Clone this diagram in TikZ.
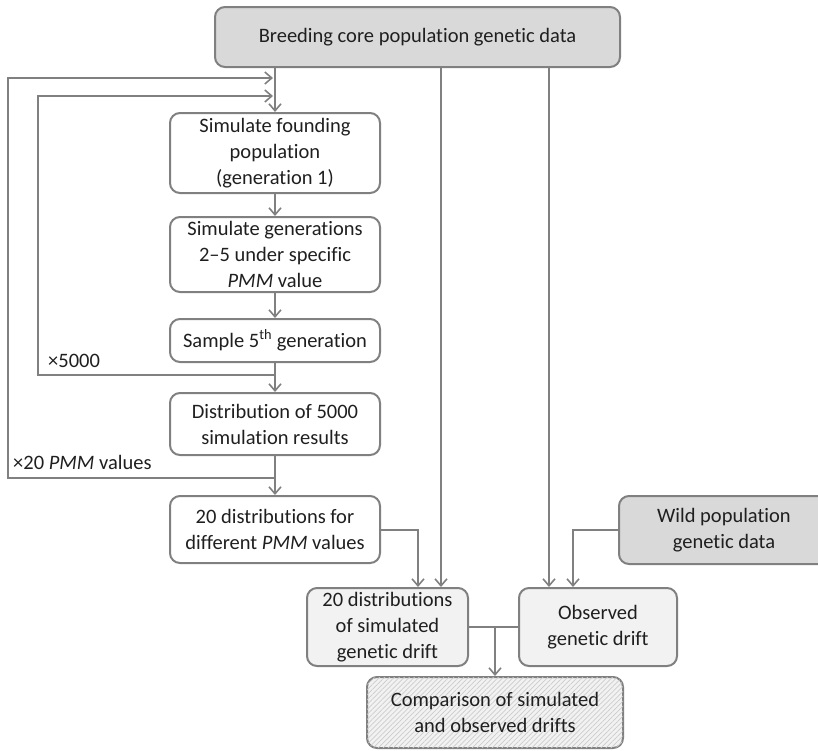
\documentclass[tikz,border=0pt]{standalone}
\usepackage{fontspec}
\setmainfont{Carlito}[Ligatures={NoCommon}]
\usetikzlibrary{arrows.meta,patterns.meta}
\definecolor{linegray}{RGB}{128,128,128}
\definecolor{boxgray}{RGB}{217,217,217}
\definecolor{lightbox}{RGB}{242,242,242}
\tikzset{
  box/.style={draw=linegray, line width=2pt, rounded corners=10pt, align=center,
    inner sep=0pt, font=\fontsize{20.5}{26}\selectfont, text=black!88},
  graybox/.style={box, fill=boxgray},
  dotbox/.style={box, fill=lightbox},
  hatchbox/.style={box, fill=lightbox, postaction={pattern={Lines[angle=45,distance=3.5pt,line width=0.7pt]}, pattern color=black!20}},
  conn/.style={draw=linegray, line width=2pt},
  arr/.style={conn, -{Straight Barb[length=7pt,width=12pt,line width=1.6pt]}},
  lbl/.style={font=\fontsize{20.5}{26}\selectfont, text=black!88, inner sep=0pt, anchor=west}
}
\begin{document}
\begin{tikzpicture}[x=1pt,y=-1pt]
\useasboundingbox (0,0) rectangle (818,750);
\clip (0,0) rectangle (818,750);
% nodes
\node[graybox, minimum width=405pt, minimum height=60pt] (top) at (417.5,37) {Breeding core population genetic data};
\node[box, minimum width=210pt, minimum height=80pt] (b1) at (275,153) {Simulate founding\\population\\(generation 1)};
\node[box, minimum width=210pt, minimum height=75pt] (b2) at (275,254.5) {Simulate generations\\2–5 under specific\\\textit{PMM} value};
\node[box, minimum width=210pt, minimum height=43pt] (b3) at (275,340.5) {Sample 5\textsuperscript{th} generation};
\node[box, minimum width=210pt, minimum height=62pt] (b4) at (275,424) {Distribution of 5000\\simulation results};
\node[box, minimum width=210pt, minimum height=67pt] (b5) at (275,529.5) {20 distributions for\\different \textit{PMM} values};
\node[dotbox, minimum width=161pt, minimum height=78pt] (b6) at (387.5,627) {20 distributions\\of simulated\\genetic drift};
\node[dotbox, minimum width=158pt, minimum height=78pt] (b7) at (598,627) {Observed\\genetic drift};
\node[hatchbox, minimum width=256pt, minimum height=71pt] (b8) at (495,712.5) {Comparison of simulated\\and observed drifts};
\node[graybox, minimum width=210pt, minimum height=68pt] (wild) at (724,530) {Wild population\\genetic data};
% labels
\node[lbl] (l1) at (48,361) {×5000};
\node[lbl] (l2) at (13,462) {×20 \textit{PMM} values};
% coordinates
\coordinate (X1) at (441,0);
\coordinate (X2) at (549,0);
\coordinate (X3) at (418,0);
\coordinate (X4) at (573,0);
\coordinate (J1) at (275,375);
\coordinate (J2) at (275,478);
\coordinate (T1) at (273,96);
\coordinate (T2) at (273,78);
\coordinate (JB) at (495,627);
% main column
\draw[arr] (b1.north |- top.south) -- (b1.north);
\draw[arr] (b1) -- (b2);
\draw[arr] (b2) -- (b3);
\draw[arr] (b3) -- (b4);
\draw[arr] (b4) -- (b5);
% loops
\draw[arr] (J1) -- (38,375) |- (T1);
\draw[arr] (J2) -- (8,478) |- (T2);
% long lines from top
\draw[arr] (X1 |- top.south) -- (X1 |- b6.north);
\draw[arr] (X2 |- top.south) -- (X2 |- b7.north);
% side inputs
\draw[arr] (b5.east) -| (X3 |- b6.north);
\draw[arr] (wild.west) -| (X4 |- b7.north);
% merge
\draw[conn] (b6.east) -- (b7.west);
\draw[arr] (JB) -- (b8.north -| JB);
\end{tikzpicture}
\end{document}
